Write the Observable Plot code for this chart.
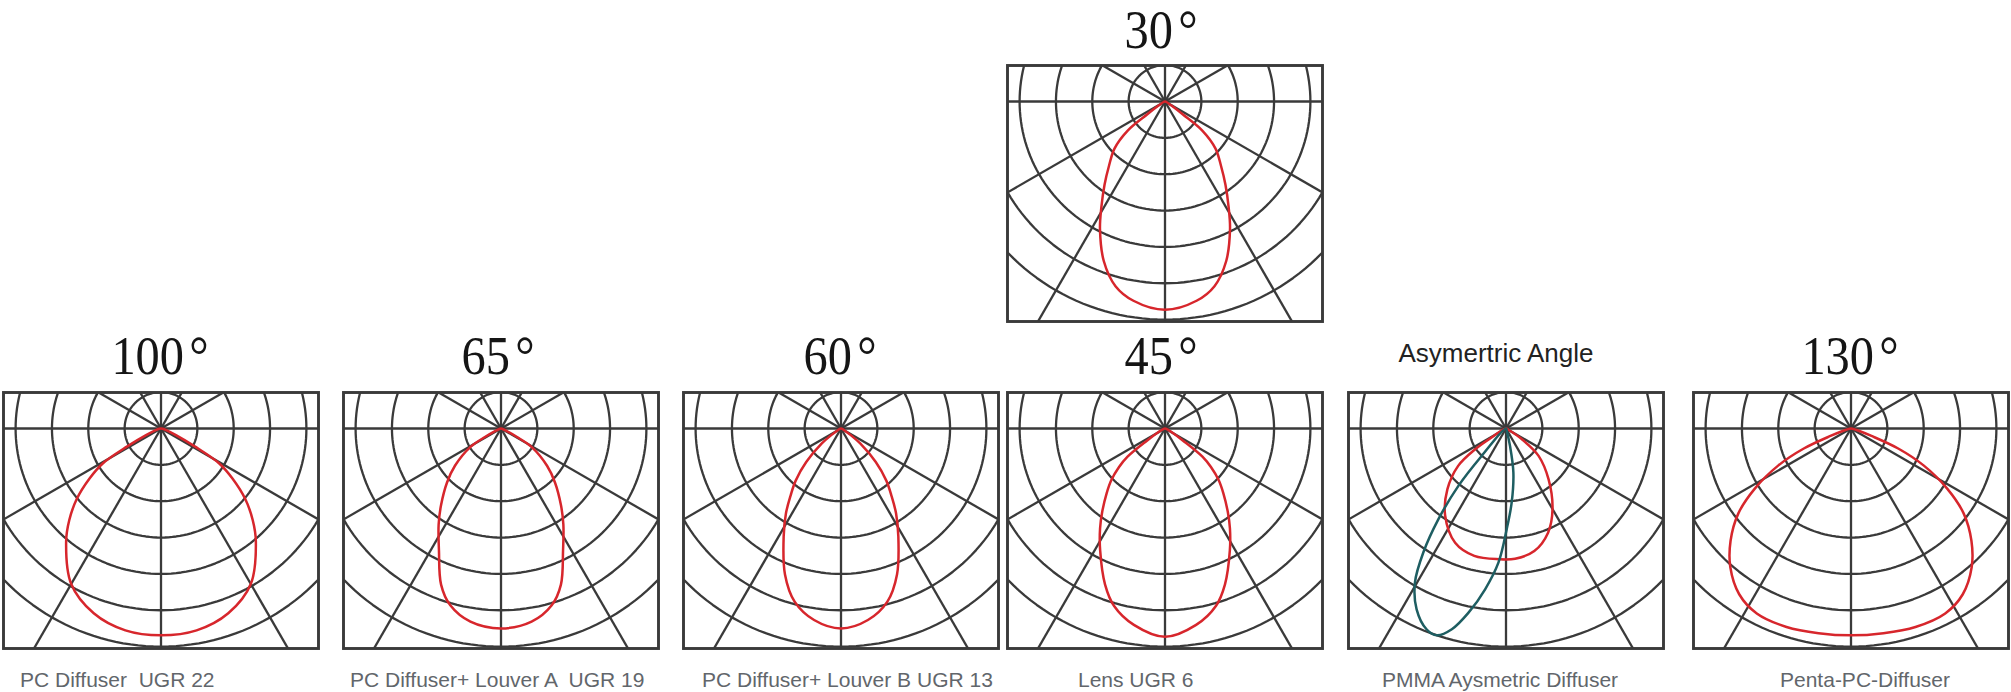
<!DOCTYPE html>
<html><head><meta charset="utf-8">
<script src="https://cdn.jsdelivr.net/npm/d3@7"></script>
<script src="https://cdn.jsdelivr.net/npm/@observablehq/plot@0.6"></script>
<style>
html,body{margin:0;padding:0;background:#fff;}
#root{position:relative;width:2011px;height:692px;overflow:hidden;background:#fff;}
.panel{position:absolute;}
.title{position:absolute;font-family:"Liberation Serif","Times New Roman",serif;font-size:55px;line-height:1.107em;color:#151515;white-space:pre;transform:translateX(-50%) scaleX(0.88);}
.title span{margin-left:6px;}
.sub{position:absolute;font-family:"Liberation Sans",Arial,sans-serif;font-size:26px;line-height:1.117em;color:#222;white-space:pre;transform:translateX(-50%);}
.cap{position:absolute;font-family:"Liberation Sans",Arial,sans-serif;font-size:21px;line-height:1.117em;color:#62666b;white-space:pre;}
</style></head><body><div id="root"></div>
<script>
// ---- data: titles, captions ----
const titleNumbers = ["100", "65", "60", "30", "45", null, "130"];
const subtitle = "Asymertric Angle";
const captions = ["PC Diffuser  UGR 22", "PC Diffuser+ Louver A  UGR 19", "PC Diffuser+ Louver B UGR 13", "", "Lens UGR 6", "PMMA Aysmetric Diffuser", "Penta-PC-Diffuser"];

// ---- data: polar intensity curves (angle in degrees from nadir, radius in ring units) ----
const angles100 = [0, 10, 20, 30, 40, 45, 50, 55, 59, 62, 66, 72, 80, 90];
const radii100  = [5.69, 5.64, 5.41, 4.94, 4.06, 3.57, 3.03, 2.4, 1.87, 1.05, 0.45, 0.15, 0.05, 0];
const angles65 = [0, 9, 16, 21, 27, 33, 38, 45, 51, 59, 62, 67, 77, 90];
const radii65  = [5.5, 5.38, 5.06, 4.6, 3.76, 3.15, 2.68, 2.1, 1.63, 0.97, 0.5, 0.15, 0.03, 0];
const angles60 = [0, 8, 15, 21, 28, 33, 37, 41, 46, 52, 56, 62, 75, 90];
const radii60  = [5.5, 5.32, 4.93, 4.3, 3.36, 2.78, 2.3, 1.9, 1.33, 0.67, 0.3, 0.1, 0.02, 0];
const angles30 = [0, 9, 15, 21, 27, 31, 36, 41, 47, 52, 54, 58, 70, 90];
const radii30  = [5.73, 5.55, 5.26, 4.7, 3.94, 3.4, 2.83, 2.35, 1.9, 1.31, 0.6, 0.2, 0.04, 0];
const angles45 = [0, 9, 16, 21, 28, 33, 37, 42, 46, 50, 53, 56, 60, 70, 90];
const radii45  = [5.73, 5.47, 5.08, 4.6, 3.8, 3.28, 2.87, 2.4, 2.06, 1.65, 1.29, 0.6, 0.25, 0.05, 0];
const angles130 = [0, 9, 18, 27, 34, 41, 47, 53, 58, 63, 67, 70, 74, 82, 90];
const radii130  = [5.69, 5.7, 5.74, 5.71, 5.5, 5.06, 4.53, 3.88, 3.12, 2.25, 1.41, 0.6, 0.2, 0.04, 0];
// asymmetric: signed angles (negative = left)
const anglesAsymRed = [-64, -58, -56, -52, -44, -35, -24, -14, -3, 4, 13, 22, 30, 40, 50, 56, 61];
const radiiAsymRed  = [0, 0.47, 1.03, 1.67, 2.32, 2.92, 3.44, 3.61, 3.6, 3.59, 3.46, 3.09, 2.56, 1.82, 1.17, 0.52, 0.1];
const anglesAsymTeal = [-45, -41.6, -39.7, -36.7, -33.7, -30.6, -26.3, -21.6, -18.5, -15.1, -11.5, -7.4, -3.2, 0.4, 4.4, 9.5, 13, 16];
const radiiAsymTeal  = [0, 1.01, 2.05, 3.11, 4.1, 4.92, 5.55, 5.94, 6.0, 5.72, 5.17, 4.46, 3.69, 2.77, 2.04, 1.23, 0.49, 0.1];

// ---- styling / layout ----
const RED = "#d7262c", TEAL = "#1e5e62", GRID = "#3a3a3a";
const RAD = Math.PI / 180;
const UNIT = 36.35;          // px per ring
const FW = 315, FH = 256, M = 3, ABOVE = 36;
const RINGS = [1, 2, 3, 4, 5, 6];
const SPOKES = d3.range(0, 360, 30);

function curvePoints(angles, radii, symmetric) {
  let pts = [];
  if (symmetric) {
    for (let i = angles.length - 1; i > 0; i--) pts.push({a: -angles[i], r: radii[i]});
    for (let i = 0; i < angles.length - 1; i++) pts.push({a: angles[i], r: radii[i]});
  } else {
    pts = angles.map((a, i) => ({a, r: radii[i]}));
  }
  return pts.map(d => ({x: d.r * Math.sin(d.a * RAD), y: d.r * Math.cos(d.a * RAD)}));
}

const ringPts = RINGS.flatMap(k => d3.range(0, 361, 2).map(a => ({k, x: k * Math.sin(a * RAD), y: k * Math.cos(a * RAD)})));
const spokePts = SPOKES.map(a => ({x1: 0, y1: 0, x2: 12 * Math.sin(a * RAD), y2: 12 * Math.cos(a * RAD)}));

function makePanel(curves) {
  return Plot.plot({
    width: FW + 2 * M, height: FH + 2 * M, margin: M,
    style: "background:transparent;max-width:none;overflow:visible;",
    x: {domain: [-FW / 2 / UNIT, FW / 2 / UNIT], axis: null},
    y: {domain: [-ABOVE / UNIT, (FH - ABOVE) / UNIT], reverse: true, axis: null},
    marks: [
      Plot.line(ringPts, {x: "x", y: "y", z: "k", stroke: GRID, strokeWidth: 2.3, clip: true}),
      Plot.link(spokePts, {x1: "x1", y1: "y1", x2: "x2", y2: "y2", stroke: GRID, strokeWidth: 2.3, clip: true}),
      ...curves.map(c => Plot.line(curvePoints(c.a, c.r, c.sym), {x: "x", y: "y", stroke: c.color, strokeWidth: 2.5, curve: "catmull-rom-closed", clip: true})),
      Plot.frame({stroke: GRID, strokeWidth: 2.9})
    ]
  });
}

const panels = [
  {left: 3, top: 392, tx: 160, cx: 20, curves: [{a: angles100, r: radii100, sym: true, color: RED}]},
  {left: 343, top: 392, tx: 498, cx: 350, curves: [{a: angles65, r: radii65, sym: true, color: RED}]},
  {left: 683, top: 392, tx: 840, cx: 702, curves: [{a: angles60, r: radii60, sym: true, color: RED}]},
  {left: 1007, top: 65, tx: 1161, cx: null, curves: [{a: angles30, r: radii30, sym: true, color: RED}]},
  {left: 1007, top: 392, tx: 1161, cx: 1078, curves: [{a: angles45, r: radii45, sym: true, color: RED}]},
  {left: 1348, top: 392, tx: 1496, cx: 1382, curves: [{a: anglesAsymRed, r: radiiAsymRed, sym: false, color: RED}, {a: anglesAsymTeal, r: radiiAsymTeal, sym: false, color: TEAL}]},
  {left: 1693, top: 392, tx: 1850, cx: 1780, curves: [{a: angles130, r: radii130, sym: true, color: RED}]}
];

const TITLE_FS = 55;
const root = document.getElementById("root");
panels.forEach((p, i) => {
  const div = document.createElement("div");
  div.className = "panel";
  div.style.left = (p.left - M) + "px";
  div.style.top = (p.top - M) + "px";
  div.appendChild(makePanel(p.curves));
  root.appendChild(div);

  if (titleNumbers[i] !== null) {
    const t = document.createElement("div");
    t.className = "title";
    const baseline = p.top < 100 ? 49 : 375;
    t.style.left = p.tx + "px";
    t.style.top = (baseline - 0.891 * TITLE_FS) + "px";
    t.textContent = titleNumbers[i];
    const deg = document.createElement("span");
    deg.textContent = "°";
    t.appendChild(deg);
    root.appendChild(t);
  } else {
    const s = document.createElement("div");
    s.className = "sub";
    s.style.left = p.tx + "px";
    s.style.top = (363 - 0.905 * 26) + "px";
    s.textContent = subtitle;
    root.appendChild(s);
  }
  if (p.cx !== null && captions[i]) {
    const c = document.createElement("div");
    c.className = "cap";
    c.style.left = p.cx + "px";
    c.style.top = (687 - 0.905 * 21) + "px";
    c.textContent = captions[i];
    root.appendChild(c);
  }
});
</script></body></html>
